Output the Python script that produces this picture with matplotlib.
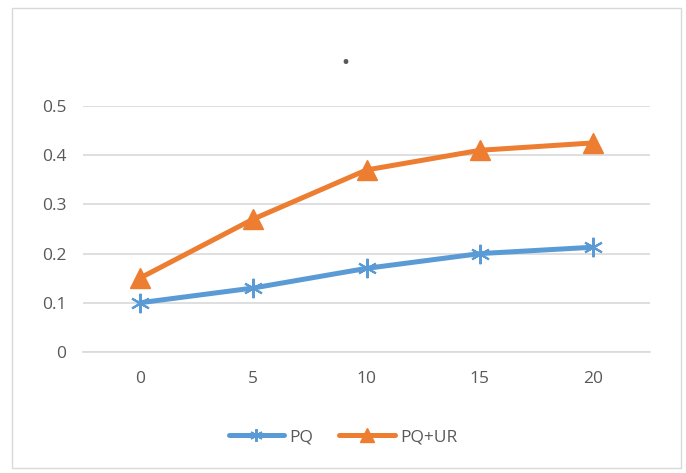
import matplotlib
matplotlib.use('Agg')
import matplotlib.pyplot as plt
from matplotlib.patches import Rectangle

categories = ['0', '5', '10', '15', '20']
pq = [0.10, 0.13, 0.17, 0.20, 0.213]
pq_ur = [0.15, 0.27, 0.37, 0.41, 0.425]
yticks = [0, 0.1, 0.2, 0.3, 0.4, 0.5]

plt.rcParams['font.family'] = ['Open Sans', 'DejaVu Sans']

fig = plt.figure(figsize=(6.86, 4.73), dpi=100)
fig.patches.append(Rectangle((12/686, 5/473), 669/686, 460/473, transform=fig.transFigure,
                             fill=False, edgecolor='#d9d9d9', linewidth=1.0))

ax = fig.add_axes([83/686, 121/473, 567/686, 246/473])
x = list(range(len(categories)))
ax.plot(x, pq, color='#5b9bd5', linewidth=3.6, marker=(6, 2, 0), markersize=14,
        markeredgewidth=1.5, label='PQ', clip_on=False, solid_capstyle='round')
ax.plot(x, pq_ur, color='#ed7d31', linewidth=3.6, marker='^', markersize=15,
        label='PQ+UR', clip_on=False, solid_capstyle='round')

ax.set_xlim(-0.5, len(categories) - 0.5)
ax.set_ylim(0, 0.5)
ax.set_yticks(yticks)
ax.set_yticklabels(['0', '0.1', '0.2', '0.3', '0.4', '0.5'])
ax.set_xticks(x)
ax.set_xticklabels(categories)
ax.grid(axis='y', color='#d9d9d9', linewidth=1.2)
ax.set_axisbelow(True)
for s in ['top', 'right', 'left']:
    ax.spines[s].set_visible(False)
ax.spines['bottom'].set_color('#d9d9d9')
ax.spines['bottom'].set_linewidth(1.2)
ax.tick_params(length=0, labelsize=12.5, labelcolor='#595959', pad=12)
ax.tick_params(axis='x', pad=14)

fig.text(345/686, 1 - 57/473, '.', ha='center', va='center', fontsize=20,
         fontweight='bold', color='#595959')

fig.legend(loc='center', bbox_to_anchor=(0.5, 1 - 437/473), ncol=2, frameon=False,
           fontsize=12.5, labelcolor='#595959', handlelength=3.2, columnspacing=1.5,
           handletextpad=0.3, markerscale=0.65)

fig.savefig('out.png', dpi=100)
